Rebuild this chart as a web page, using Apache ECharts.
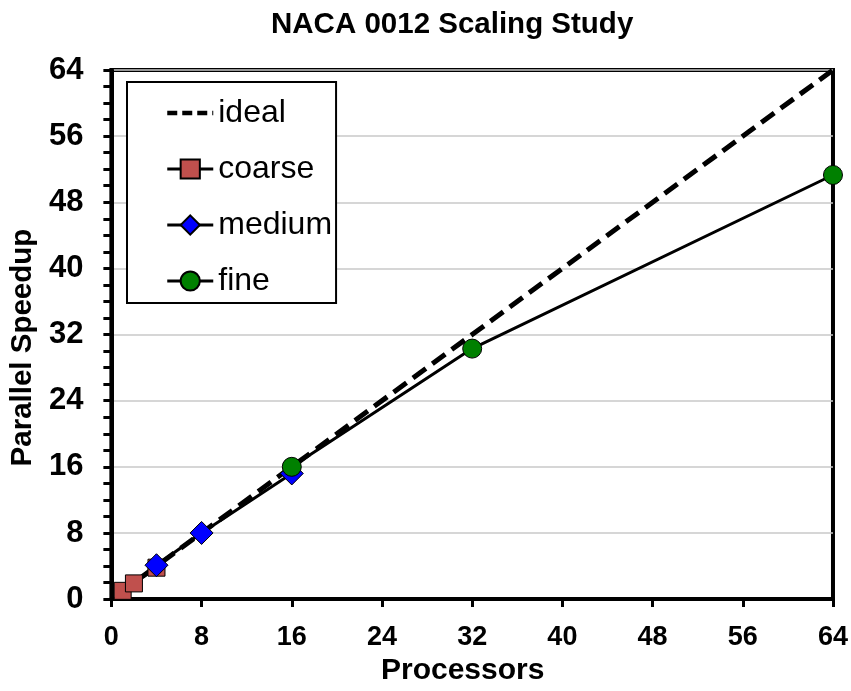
<!DOCTYPE html>
<html>
<head>
<meta charset="utf-8">
<script src="https://cdn.jsdelivr.net/npm/echarts@6/dist/echarts.min.js"></script>
<style>html,body{margin:0;padding:0;background:#fff}#c{width:851px;height:691px}</style>
</head>
<body>
<div id="c"></div>
<script>
var xTicks = [0, 8, 16, 24, 32, 40, 48, 56, 64];
var idealData = [[1, 1], [2, 2], [4, 4], [8, 8], [16, 16], [32, 32], [64, 64]];
var coarseData = [[1, 1.0], [2, 1.9], [4, 3.8]];
var mediumData = [[4, 4.1], [8, 8.0], [16, 15.2]];
var fineData = [[16, 16.0], [32, 30.3], [64, 51.3]];

var FONT = 'Liberation Sans';
var chart = echarts.init(document.getElementById('c'), null, {renderer: 'canvas'});
chart.setOption({
  backgroundColor: '#fff',
  animation: false,
  title: {
    text: 'NACA 0012 Scaling Study',
    left: 266, top: 5,
    textStyle: {fontFamily: FONT, fontWeight: 'bold', fontSize: 29.5, color: '#000'}
  },
  legend: {
    orient: 'vertical',
    left: 127, top: 82,
    padding: [15, 4, 6, 38],
    itemGap: 24,
    itemWidth: 46, itemHeight: 24,
    borderColor: '#000', borderWidth: 2,
    backgroundColor: '#fff',
    lineStyle: {width: 3},
    textStyle: {fontFamily: FONT, fontSize: 32, color: '#000', lineHeight: 32},
    data: [{name: 'ideal', itemStyle: {opacity: 0}, lineStyle: {width: 4.5, type: [10, 5]}}, 'coarse', 'medium', 'fine']
  },
  grid: {
    left: 109, right: 15, top: 70, bottom: 87,
    show: true, borderColor: '#000', borderWidth: 4
  },
  xAxis: {
    type: 'value', min: 0, max: 64, interval: 8,
    name: 'Processors', nameLocation: 'middle', nameGap: 51,
    nameTextStyle: {fontFamily: FONT, fontWeight: 'bold', fontSize: 30, color: '#000', padding: [0, 19, 0, 0]},
    axisLine: {show: true, onZero: false, lineStyle: {color: '#000', width: 4}},
    axisTick: {show: true, inside: false, length: 8, lineStyle: {color: '#000', width: 3}},
    axisLabel: {margin: 25, fontFamily: FONT, fontWeight: 'bold', fontSize: 27, color: '#000',
      formatter: function (v) { return xTicks.indexOf(v) >= 0 ? String(v) : ''; }},
    splitLine: {show: false}
  },
  yAxis: {
    type: 'value', min: 0, max: 64, interval: 8,
    name: 'Parallel Speedup', nameLocation: 'middle', nameGap: 72,
    nameTextStyle: {fontFamily: FONT, fontWeight: 'bold', fontSize: 29.5, color: '#000', padding: [0, 26, 0, 0]},
    axisLine: {show: true, onZero: false, lineStyle: {color: '#000', width: 4}},
    axisTick: {show: true, inside: false, length: 8, lineStyle: {color: '#000', width: 3}},
    minorTick: {show: true, splitNumber: 4, length: 8, lineStyle: {color: '#000', width: 3}},
    axisLabel: {margin: 28, fontFamily: FONT, fontWeight: 'bold', fontSize: 31, color: '#000'},
    splitLine: {show: true, lineStyle: {color: '#c8c8c8', width: 1.5}}
  },
  series: [
    {
      name: 'ideal', type: 'line', data: idealData, symbol: 'none', showSymbol: false,
      lineStyle: {color: '#000', width: 5, type: [16, 8]}, itemStyle: {color: '#000'}, z: 2
    },
    {
      name: 'coarse', type: 'line', data: coarseData, symbol: 'rect', symbolSize: 17,
      lineStyle: {color: '#000', width: 3},
      itemStyle: {color: '#c0504d', borderColor: '#000', borderWidth: 1}, z: 3
    },
    {
      name: 'medium', type: 'line', data: mediumData, symbol: 'diamond', symbolSize: 23,
      lineStyle: {color: '#000', width: 3},
      itemStyle: {color: '#0000ff', borderColor: '#000', borderWidth: 1}, z: 4
    },
    {
      name: 'fine', type: 'line', data: fineData, symbol: 'circle', symbolSize: 19,
      lineStyle: {color: '#000', width: 3},
      itemStyle: {color: '#008000', borderColor: '#000', borderWidth: 1}, z: 5
    }
  ]
});
</script>
</body>
</html>
